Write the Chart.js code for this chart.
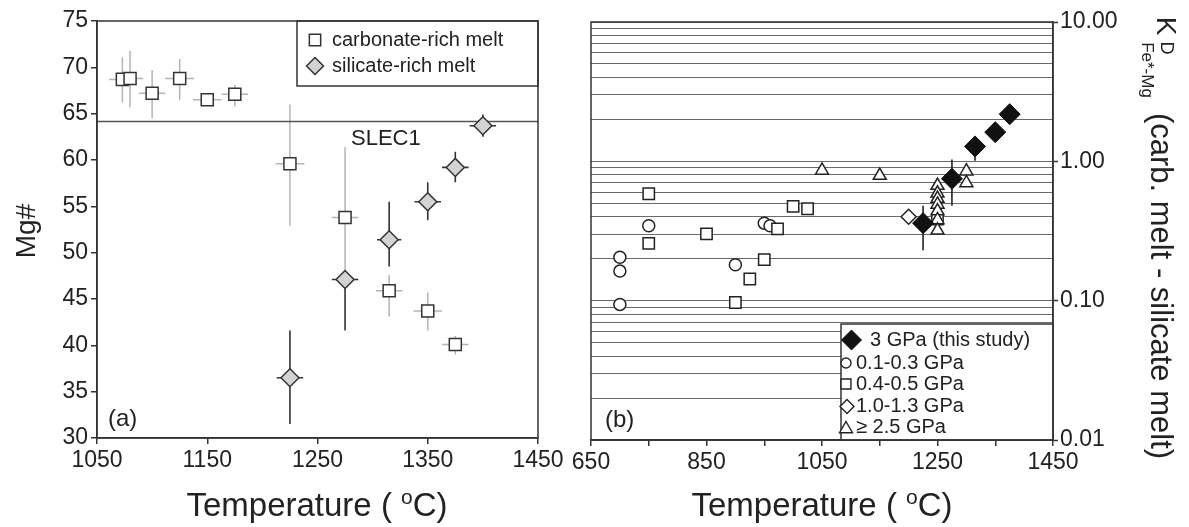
<!DOCTYPE html>
<html>
<head>
<meta charset="utf-8">
<script src="https://cdn.jsdelivr.net/npm/chart.js@4.4.1/dist/chart.umd.min.js"></script>
<style>
  body { margin: 0; background: #fff; }
  #wrap { position: relative; width: 1189px; height: 527px; overflow: hidden; background: #fff; }
  canvas { position: absolute; top: 0; }
</style>
</head>
<body>
<div id="wrap">
  <canvas id="mgChart" width="575" height="527" style="left:0;width:575px;height:527px"></canvas>
  <canvas id="kdChart" width="629" height="527" style="left:560px;width:629px;height:527px"></canvas>
</div>
<script>
// --- panel (a): Mg# vs temperature ---
const carbT    = [1073, 1080, 1100, 1125, 1150, 1175, 1225, 1275, 1315, 1350, 1375];
const carbMg   = [68.7, 68.8, 67.2, 68.8, 66.5, 67.1, 59.6, 53.8, 45.9, 43.7, 40.1];
const carbLo   = [66.2, 65.7, 64.5, 66.5, 66.2, 65.8, 52.9, 46.2, 43.1, 41.6, 39.0];
const carbHi   = [71.1, 71.8, 69.7, 70.9, 66.8, 68.1, 66.0, 61.4, 47.6, 45.7, 41.0];
const carbTErr = [12, 12, 12, 13, 13, 12, 13, 12, 12, 13, 12];

const silT    = [1225, 1275, 1315, 1350, 1375, 1400];
const silMg   = [36.5, 47.1, 51.4, 55.5, 59.2, 63.7];
const silLo   = [31.5, 41.6, 48.5, 53.5, 57.6, 62.5];
const silHi   = [41.6, 47.1, 55.5, 57.6, 60.9, 64.9];
const silTErr = [12, 12, 11, 12, 12, 12];

const slecMg = 64.15;

const mgXTicks = [1050, 1150, 1250, 1350, 1450];
const mgYTicks = [30, 35, 40, 45, 50, 55, 60, 65, 70, 75];

// --- panel (b): KD vs temperature ---
const kd3T  = [1225, 1275, 1315, 1350, 1375];
const kd3   = [0.36, 0.75, 1.28, 1.62, 2.18];
const kd3Lo = [0.23, 0.48, 1.01, 1.62, 2.18];
const kd3Hi = [0.48, 1.03, 1.28, 1.62, 2.18];

const lowT  = [700, 700, 700, 750, 900, 950, 960];
const lowKd = [0.205, 0.163, 0.094, 0.345, 0.181, 0.36, 0.345];

const midT  = [750, 750, 850, 900, 925, 950, 973, 1000, 1025, 1250];
const midKd = [0.585, 0.258, 0.302, 0.097, 0.143, 0.197, 0.328, 0.475, 0.457, 0.385];

const gpa1T  = [1200];
const gpa1Kd = [0.40];

const highT  = [1050, 1150, 1250, 1250, 1250, 1250, 1250, 1250, 1250, 1300, 1300];
const highKd = [0.86, 0.79, 0.67, 0.59, 0.54, 0.49, 0.44, 0.38, 0.32, 0.85, 0.70];

const kdXTicks  = [650, 750, 850, 950, 1050, 1150, 1250, 1350, 1450];
const kdXLabels = [650, 850, 1050, 1250, 1450];
const kdYTicks  = [0.01, 0.02, 0.03, 0.04, 0.05, 0.06, 0.07, 0.08, 0.09,
                   0.1, 0.2, 0.3, 0.4, 0.5, 0.6, 0.7, 0.8, 0.9,
                   1, 2, 3, 4, 5, 6, 7, 8, 9, 10];
const kdYLabels = [0.01, 0.1, 1, 10];

const FONT = "'Liberation Sans', Arial, Helvetica, sans-serif";
const INK = '#222';
const AXIS = '#333';

function pts(xs, ys) { return xs.map((x, i) => ({ x: x, y: ys[i] })); }

function mark(ctx, style, x, y, r, fill, stroke, lw) {
  ctx.save();
  ctx.fillStyle = fill; ctx.strokeStyle = stroke; ctx.lineWidth = lw;
  ctx.beginPath();
  if (style === 'rect') { const s = r * Math.SQRT1_2; ctx.rect(x - s, y - s, 2 * s, 2 * s); }
  else if (style === 'rectRot') { ctx.moveTo(x, y - r); ctx.lineTo(x + r, y); ctx.lineTo(x, y + r); ctx.lineTo(x - r, y); ctx.closePath(); }
  else if (style === 'circle') ctx.arc(x, y, r, 0, Math.PI * 2);
  else if (style === 'triangle') { ctx.moveTo(x, y - r); ctx.lineTo(x + r * 0.866, y + r * 0.5); ctx.lineTo(x - r * 0.866, y + r * 0.5); ctx.closePath(); }
  ctx.fill(); ctx.stroke();
  ctx.restore();
}

function text(ctx, str, x, y, size, align, base, rot) {
  ctx.save();
  ctx.translate(x, y);
  if (rot) ctx.rotate(rot);
  ctx.font = size + 'px ' + FONT;
  ctx.fillStyle = INK;
  ctx.textAlign = align || 'left';
  ctx.textBaseline = base || 'middle';
  ctx.fillText(str, 0, 0);
  ctx.restore();
}

// "Temperature ( oC)" with raised o
function tempTitle(ctx, cx, y) {
  ctx.save();
  const a = 'Temperature ( ', o = 'o', c = 'C)';
  const big = '33px ' + FONT, small = '21px ' + FONT;
  ctx.font = big;
  const wa = ctx.measureText(a).width, wc = ctx.measureText(c).width;
  ctx.font = small;
  const wo = ctx.measureText(o).width;
  let x = cx - (wa + wo + wc) / 2;
  ctx.fillStyle = INK; ctx.textBaseline = 'alphabetic'; ctx.textAlign = 'left';
  ctx.font = big; ctx.fillText(a, x, y); x += wa;
  ctx.font = small; ctx.fillText(o, x, y - 12); x += wo;
  ctx.font = big; ctx.fillText(c, x, y);
  ctx.restore();
}

function errorBars(sets) {
  return {
    id: 'errbars',
    beforeDatasetsDraw(chart) {
      const { ctx, scales: { x, y } } = chart;
      ctx.save();
      ctx.beginPath();
      ctx.rect(chart.chartArea.left, chart.chartArea.top, chart.chartArea.width, chart.chartArea.height);
      ctx.clip();
      sets.forEach(e => {
        ctx.strokeStyle = e.color; ctx.lineWidth = e.width;
        e.xs.forEach((t, i) => {
          const px = x.getPixelForValue(t), py = y.getPixelForValue(e.ys[i]);
          ctx.beginPath();
          if (e.lo) { ctx.moveTo(px, y.getPixelForValue(e.lo[i])); ctx.lineTo(px, y.getPixelForValue(e.hi[i])); }
          if (e.xerr) { ctx.moveTo(x.getPixelForValue(t - e.xerr[i]), py); ctx.lineTo(x.getPixelForValue(t + e.xerr[i]), py); }
          ctx.stroke();
        });
      });
      ctx.restore();
    }
  };
}

function frame(chart) {
  const { ctx, chartArea: a } = chart;
  ctx.save();
  ctx.strokeStyle = AXIS; ctx.lineWidth = 1.5;
  ctx.strokeRect(a.left, a.top, a.right - a.left, a.bottom - a.top);
  ctx.restore();
}

function fixTicks(list) {
  return s => { s.ticks = list.map(v => ({ value: v })); };
}

const tickFont = { family: FONT, size: 23 };

// ---------- left chart ----------
new Chart(document.getElementById('mgChart'), {
  type: 'scatter',
  data: {
    datasets: [
      {
        label: 'silicate-rich melt', data: pts(silT, silMg),
        pointStyle: 'rectRot', pointRadius: 9, backgroundColor: '#d3d3d3',
        borderColor: AXIS, borderWidth: 1.5
      },
      {
        label: 'carbonate-rich melt', data: pts(carbT, carbMg),
        pointStyle: 'rect', pointRadius: 8.5, backgroundColor: '#fff',
        borderColor: AXIS, borderWidth: 1.5
      },
      {
        label: 'SLEC1', data: [{ x: 1050, y: slecMg }, { x: 1450, y: slecMg }],
        showLine: true, pointRadius: 0, borderColor: '#555', borderWidth: 1.5
      }
    ]
  },
  options: {
    responsive: false, animation: false,
    layout: { padding: { left: 0, top: 21, right: 37, bottom: 0 } },
    plugins: { legend: { display: false }, tooltip: { enabled: false } },
    scales: {
      x: {
        type: 'linear', min: 1050, max: 1450,
        afterBuildTicks: fixTicks(mgXTicks),
        afterFit: s => { s.height = 89; s.paddingLeft = 0; s.paddingRight = 0; },
        ticks: { color: INK, font: tickFont, padding: 3, maxRotation: 0, autoSkip: false, callback: v => String(v) },
        grid: { drawOnChartArea: false, color: AXIS, lineWidth: 1.5, tickLength: 6 },
        border: { color: AXIS, width: 1.5 }
      },
      y: {
        min: 30, max: 75,
        afterBuildTicks: fixTicks(mgYTicks),
        afterFit: s => { s.width = 97; s.paddingTop = 0; s.paddingBottom = 0; },
        ticks: { color: INK, font: tickFont, padding: 3, autoSkip: false, callback: v => String(v) },
        grid: { drawOnChartArea: false, color: AXIS, lineWidth: 1.5, tickLength: 6 },
        border: { color: AXIS, width: 1.5 }
      }
    }
  },
  plugins: [
    errorBars([
      { xs: carbT, ys: carbMg, lo: carbLo, hi: carbHi, xerr: carbTErr, color: '#b4b4b4', width: 1.5 },
      { xs: silT, ys: silMg, lo: silLo, hi: silHi, xerr: silTErr, color: '#333', width: 1.6 }
    ]),
    {
      id: 'decor',
      afterDraw(chart) {
        const { ctx, scales: { x, y } } = chart;
        text(ctx, 'SLEC1', x.getPixelForValue(1312), y.getPixelForValue(62.3), 22, 'center');
        text(ctx, '(a)', 108, 419, 24);
        // legend
        ctx.save();
        ctx.fillStyle = '#fff'; ctx.fillRect(297, 21, 241, 65);
        ctx.strokeStyle = AXIS; ctx.lineWidth = 1.5; ctx.strokeRect(297, 21, 241, 65);
        ctx.restore();
        mark(ctx, 'rect', 315, 40, 8, '#fff', AXIS, 1.5);
        mark(ctx, 'rectRot', 315, 66, 8.5, '#d3d3d3', AXIS, 1.5);
        text(ctx, 'carbonate-rich melt', 332, 40, 20);
        text(ctx, 'silicate-rich melt', 332, 66, 20);
        frame(chart);
        text(ctx, 'Mg#', 27, 231, 28, 'center', 'middle', -Math.PI / 2);
        tempTitle(ctx, 317, 516);
      }
    }
  ]
});

// ---------- right chart ----------
const isMajor = v => Math.abs(Math.log10(v) - Math.round(Math.log10(v))) < 1e-9;

new Chart(document.getElementById('kdChart'), {
  type: 'scatter',
  data: {
    datasets: [
      {
        label: '3 GPa (this study)', data: pts(kd3T, kd3),
        pointStyle: 'rectRot', pointRadius: 10.5, backgroundColor: '#111',
        borderColor: '#111', borderWidth: 1
      },
      {
        label: '1.0-1.3 GPa', data: pts(gpa1T, gpa1Kd),
        pointStyle: 'rectRot', pointRadius: 7.5, backgroundColor: '#fff',
        borderColor: INK, borderWidth: 1.5
      },
      {
        label: '≥ 2.5 GPa', data: pts(highT, highKd),
        pointStyle: 'triangle', pointRadius: 7.5, backgroundColor: '#fff',
        borderColor: INK, borderWidth: 1.5
      },
      {
        label: '0.4-0.5 GPa', data: pts(midT, midKd),
        pointStyle: 'rect', pointRadius: 8, backgroundColor: '#fff',
        borderColor: INK, borderWidth: 1.5
      },
      {
        label: '0.1-0.3 GPa', data: pts(lowT, lowKd),
        pointStyle: 'circle', pointRadius: 6, backgroundColor: '#fff',
        borderColor: INK, borderWidth: 1.5
      }
    ]
  },
  options: {
    responsive: false, animation: false,
    layout: { padding: { left: 31, top: 22, right: 0, bottom: 0 } },
    plugins: { legend: { display: false }, tooltip: { enabled: false } },
    scales: {
      x: {
        type: 'linear', min: 650, max: 1450,
        afterBuildTicks: fixTicks(kdXTicks),
        afterFit: s => { s.height = 87; s.paddingLeft = 0; s.paddingRight = 0; },
        ticks: {
          color: INK, font: tickFont, padding: 3, maxRotation: 0, autoSkip: false,
          callback: v => kdXLabels.includes(v) ? String(v) : ''
        },
        grid: { drawOnChartArea: false, color: AXIS, lineWidth: 1.5, tickLength: 6 },
        border: { color: AXIS, width: 1.5 }
      },
      y: {
        type: 'logarithmic', position: 'right', min: 0.01, max: 10,
        afterBuildTicks: fixTicks(kdYTicks),
        afterFit: s => { s.width = 136; s.paddingTop = 0; s.paddingBottom = 0; },
        ticks: {
          color: INK, font: tickFont, padding: 2, autoSkip: false,
          callback: v => kdYLabels.some(l => Math.abs(l - v) < 1e-9) ? v.toFixed(2) : ''
        },
        grid: {
          color: '#6a6a6a', lineWidth: 1, tickLength: 5,
          tickColor: c => (c.tick && isMajor(c.tick.value)) ? AXIS : 'rgba(0,0,0,0)',
          tickWidth: 1.5
        },
        border: { color: AXIS, width: 1.5 }
      }
    }
  },
  plugins: [
    errorBars([
      { xs: kd3T, ys: kd3, lo: kd3Lo, hi: kd3Hi, color: '#222', width: 1.6 }
    ]),
    {
      id: 'decor',
      afterDraw(chart) {
        const { ctx } = chart;
        // legend box (covers gridlines)
        ctx.save();
        ctx.fillStyle = '#fff'; ctx.fillRect(281, 324, 212, 116);
        ctx.strokeStyle = AXIS; ctx.lineWidth = 1.5; ctx.strokeRect(281, 324, 212, 116);
        ctx.restore();
        mark(ctx, 'rectRot', 291.5, 340, 10, '#111', '#111', 1);
        mark(ctx, 'circle', 286, 363, 5, '#fff', INK, 1.4);
        mark(ctx, 'rect', 286, 384, 7, '#fff', INK, 1.4);
        mark(ctx, 'rectRot', 287, 406.5, 7, '#fff', INK, 1.4);
        mark(ctx, 'triangle', 286, 429, 7.5, '#fff', INK, 1.4);
        text(ctx, '3 GPa (this study)', 310, 340, 20);
        text(ctx, '0.1-0.3 GPa', 296, 363, 20);
        text(ctx, '0.4-0.5 GPa', 296, 384, 20);
        text(ctx, '1.0-1.3 GPa', 296, 406.5, 20);
        text(ctx, '≥ 2.5 GPa', 296, 427.5, 20);
        frame(chart);
        text(ctx, '(b)', 45, 420, 24);
        tempTitle(ctx, 262, 516);
        // right axis title, rotated
        text(ctx, 'K', 605, 26, 28, 'center', 'middle', Math.PI / 2);
        text(ctx, 'D', 606, 48, 18, 'center', 'middle', Math.PI / 2);
        text(ctx, 'Fe*-Mg', 587, 70, 17, 'center', 'middle', Math.PI / 2);
        text(ctx, '(carb. melt - silicate melt)', 600, 286, 31, 'center', 'middle', Math.PI / 2);
      }
    }
  ]
});
</script>
</body>
</html>
